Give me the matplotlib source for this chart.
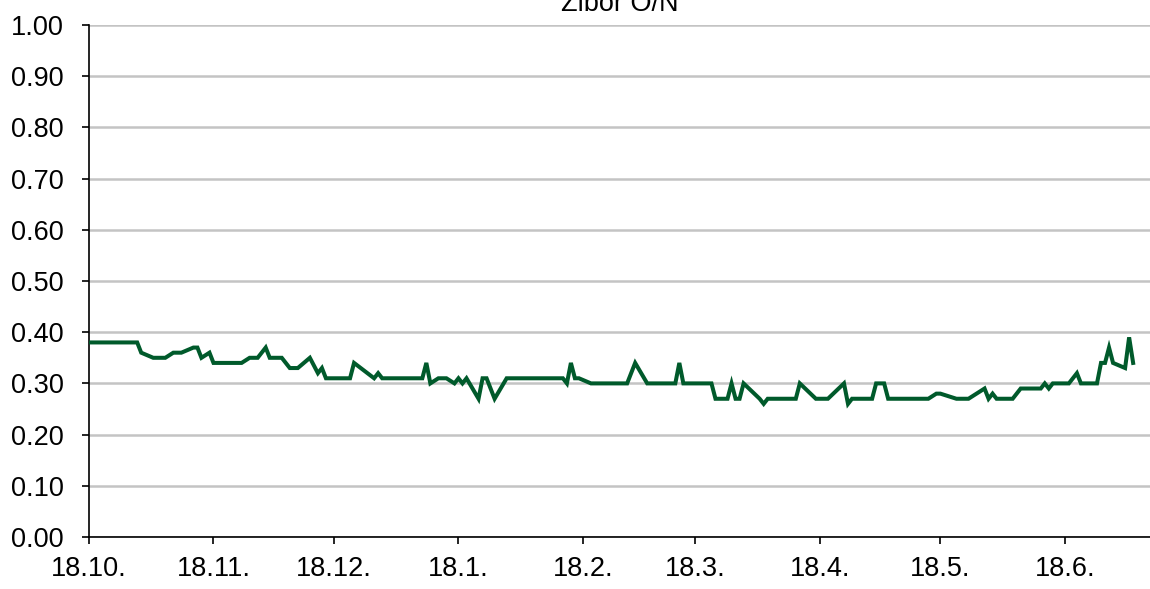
import matplotlib
matplotlib.use("Agg")
import matplotlib.pyplot as plt
import matplotlib.dates as mdates
import numpy as np
import pandas as pd

plt.rcParams['font.family'] = ['Liberation Sans', 'DejaVu Sans']

title = "Zibor O/N"
start_date = "2018-10-18"
# day offsets from start date and rate values
day_offsets = [0, 12, 13, 16, 19, 21, 23, 26, 27, 28, 30, 31, 38, 40, 42, 44, 45, 48, 50, 52,
               55, 57, 58, 59, 65, 66, 71, 72, 73, 83, 84, 85, 87, 89, 91, 92, 93, 94, 97, 98,
               99, 101, 104, 118, 119, 120, 121, 122, 125, 134, 136, 139, 146, 147, 148, 155, 156,
               159, 160, 161, 162, 163, 167, 168, 169, 176, 177, 181, 184, 188, 189, 190, 195, 196,
               198, 199, 209, 211, 212, 216, 219, 223, 224, 225, 226, 230, 232, 237, 238, 239, 240,
               244, 246, 247, 251, 252, 253, 254, 255, 258, 259, 260]
values = [0.38, 0.38, 0.36, 0.35, 0.35, 0.36, 0.36, 0.37, 0.37, 0.35, 0.36, 0.34, 0.34, 0.35, 0.35,
          0.37, 0.35, 0.35, 0.33, 0.33,
          0.35, 0.32, 0.33, 0.31, 0.31, 0.34, 0.31, 0.32, 0.31, 0.31, 0.34, 0.30, 0.31, 0.31, 0.30,
          0.31, 0.30, 0.31, 0.27, 0.31,
          0.31, 0.27, 0.31, 0.31, 0.30, 0.34, 0.31, 0.31, 0.30, 0.30, 0.34, 0.30, 0.30, 0.34, 0.30,
          0.30, 0.27,
          0.27, 0.30, 0.27, 0.27, 0.30, 0.27, 0.26, 0.27, 0.27, 0.30, 0.27, 0.27, 0.30, 0.26, 0.27,
          0.27, 0.30,
          0.30, 0.27, 0.27, 0.28, 0.28, 0.27, 0.27, 0.29, 0.27, 0.28, 0.27, 0.27, 0.29, 0.29, 0.30,
          0.29, 0.30,
          0.30, 0.32, 0.30, 0.30, 0.34, 0.34, 0.37, 0.34, 0.33, 0.39, 0.34]
tick_dates = ["2018-10-18", "2018-11-18", "2018-12-18", "2019-01-18", "2019-02-18",
              "2019-03-18", "2019-04-18", "2019-05-18", "2019-06-18"]
tick_labels = ["18.10.", "18.11.", "18.12.", "18.1.", "18.2.", "18.3.", "18.4.", "18.5.", "18.6."]
y_ticks = [0.0, 0.1, 0.2, 0.3, 0.4, 0.5, 0.6, 0.7, 0.8, 0.9, 1.0]

dates = pd.Timestamp(start_date) + pd.to_timedelta(day_offsets, unit="D")

fig = plt.figure(figsize=(11.5, 5.89), dpi=100)
ax = fig.add_axes([89/1150, 1 - 537/589, 1 - 89/1150, (537 - 25)/589])

ax.plot(dates, values, color="#005a2b", lw=2.9, solid_joinstyle="miter", zorder=3)

ax.set_ylim(0, 1.0)
ax.set_xlim(pd.Timestamp(start_date), pd.Timestamp(start_date) + pd.Timedelta(days=264.2))
ax.set_yticks(y_ticks)
ax.set_yticklabels([f"{v:.2f}" for v in y_ticks])
ax.set_xticks(pd.to_datetime(tick_dates))
ax.set_xticklabels(tick_labels)

ax.yaxis.grid(True, color="#c4c4c4", lw=1.8)
ax.set_axisbelow(True)
for s in ["top", "right"]:
    ax.spines[s].set_visible(False)
for s in ["left", "bottom"]:
    ax.spines[s].set_linewidth(1.2)
    ax.spines[s].set_color("black")

ax.tick_params(axis="y", direction="out", length=5, width=1.2, pad=13, labelsize=19.5)
ax.tick_params(axis="x", direction="out", length=5, width=1.2, pad=9, labelsize=19.5)

fig.text(620/1150, 1 - 11/589, title, ha="center", va="baseline", fontsize=19.5)

fig.savefig("out.png", dpi=100)
